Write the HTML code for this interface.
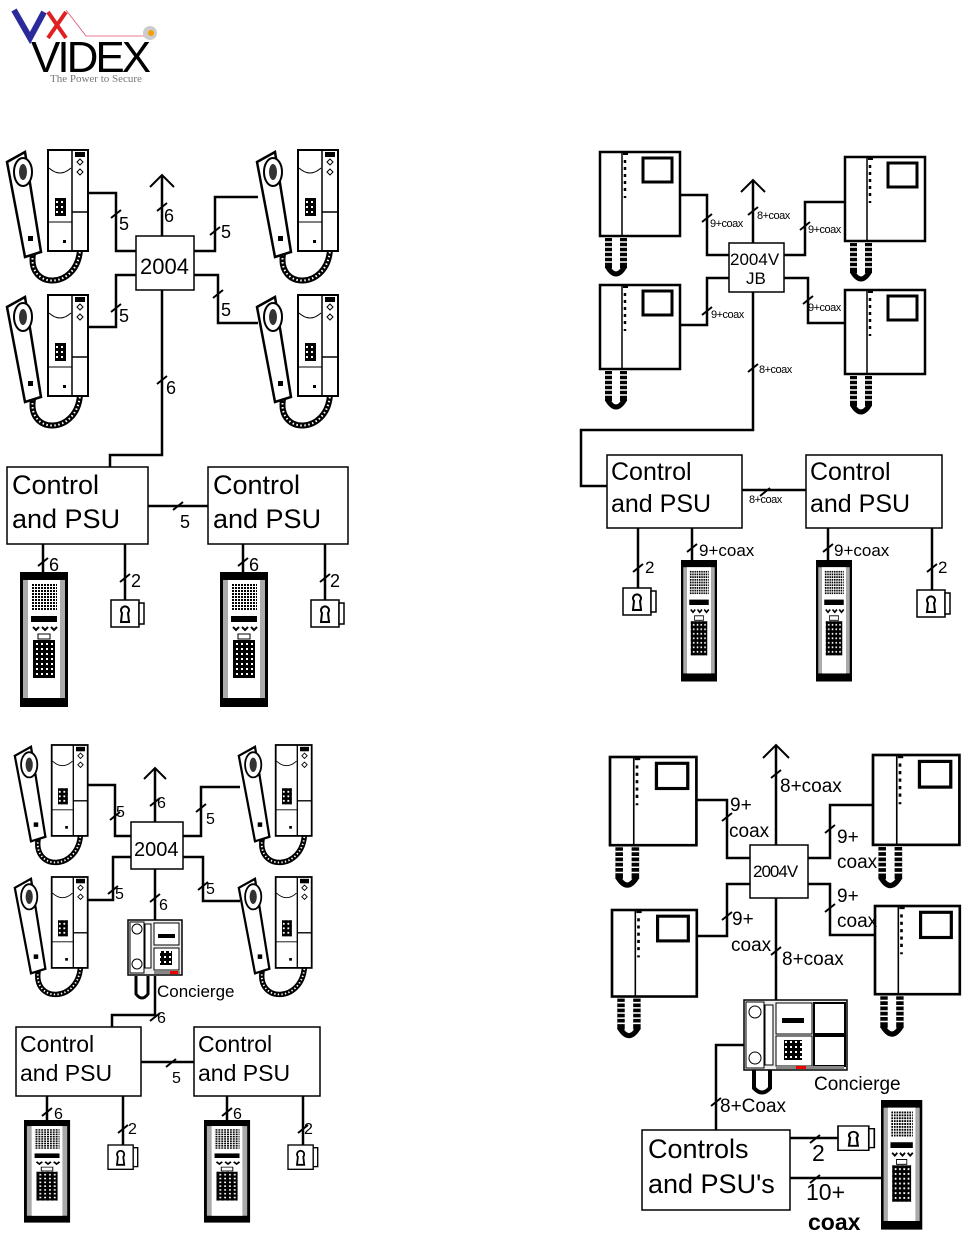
<!DOCTYPE html>
<html><head><meta charset="utf-8"><style>
html,body{margin:0;padding:0;background:#fff}
svg{display:block}
text{font-family:"Liberation Sans",Arial,sans-serif;fill:#000}
</style></head><body>
<svg width="965" height="1237" viewBox="0 0 965 1237" xmlns="http://www.w3.org/2000/svg">
<defs>
<pattern id="dots" width="3" height="3" patternUnits="userSpaceOnUse"><rect width="3" height="3" fill="#fff"/><rect width="2" height="2" fill="#000"/></pattern>
<pattern id="kd" width="5" height="5" patternUnits="userSpaceOnUse"><rect width="5" height="5" fill="#000"/><rect x="1" y="1" width="2" height="2" fill="#fff"/></pattern>
<g id="ph">
 <path d="M28,104 C22,140 72,140 75,100" fill="none" stroke="#000" stroke-width="6"/>
 <path d="M28,104 C22,140 72,140 75,100" fill="none" stroke="#fff" stroke-width="2" stroke-dasharray="1.5 2.5"/>
 <path d="M2,12 L20,2 L36,102 L20,107 Z" fill="#fff" stroke="#000" stroke-width="2.5"/>
 <ellipse cx="18" cy="22" rx="9" ry="14" fill="#fff" stroke="#000" stroke-width="2"/>
 <ellipse cx="18" cy="22" rx="4" ry="8" fill="#333"/>
 <rect x="23" y="86" width="5" height="5" fill="#000"/>
 <rect x="43" y="0" width="40" height="101" fill="#fff" stroke="#000" stroke-width="2"/>
 <line x1="67" y1="0" x2="67" y2="101" stroke="#000" stroke-width="1.5"/>
 <line x1="67" y1="62" x2="83" y2="62" stroke="#000" stroke-width="1.5"/>
 <line x1="43" y1="72" x2="67" y2="72" stroke="#000" stroke-width="1"/>
 <path d="M44,18 Q55,28 66,18" fill="none" stroke="#000" stroke-width="1"/>
 <rect x="50" y="48" width="11" height="18" fill="url(#kd)"/>
 <rect x="70" y="2" width="10" height="5" fill="#000"/>
 <path d="M72,12 l3,-3 l3,3 l-3,3 z M72,22 l3,-3 l3,3 l-3,3 z" fill="none" stroke="#000"/>
 <rect x="58" y="90" width="3" height="3" fill="#000"/>
</g>
<g id="mon">
 <rect x="5" y="86" width="7" height="30" fill="#000"/>
 <rect x="20" y="86" width="7" height="30" fill="#000"/>
 <path d="M5,90 h22 M5,95 h22 M5,100 h22 M5,105 h22 M5,110 h22" stroke="#fff" stroke-width="1.5"/>
 <path d="M7,114 Q16,130 25,114" fill="none" stroke="#000" stroke-width="5"/>
 <rect x="0" y="0" width="80" height="84" fill="#fff" stroke="#000" stroke-width="2.5"/>
 <line x1="22" y1="0" x2="22" y2="84" stroke="#000" stroke-width="1.5"/>
 <rect x="23" y="0" width="5" height="3" fill="#000"/>
 <path d="M25,8 v3 M25,15 v3 M25,22 v3 M25,29 v3 M25,36 v3 M25,44 v2" stroke="#000" stroke-width="2.5"/>
 <rect x="43" y="6" width="29" height="24" fill="#fff" stroke="#000" stroke-width="3"/>
</g>
<g id="door">
 <rect x="0" y="0" width="48" height="135" fill="#000"/>
 <rect x="3" y="8" width="42" height="118" fill="#aaa"/>
 <rect x="8" y="8" width="32" height="118" fill="#fff"/>
 <rect x="11" y="12" width="26" height="26" fill="url(#dots)"/>
 <rect x="11" y="44" width="26" height="6" fill="#000"/>
 <path d="M13,55 l3,3 l3,-3 M22,55 l3,3 l3,-3 M31,55 l3,3 l3,-3" stroke="#000" fill="none" stroke-width="2"/>
 <rect x="18" y="62" width="12" height="5" fill="#fff" stroke="#000"/>
 <rect x="13" y="68" width="22" height="38" fill="url(#kd)"/>
</g>
<g id="lock">
 <rect x="0" y="0" width="28" height="27" fill="#fff" stroke="#000" stroke-width="1.5"/>
 <rect x="28" y="3" width="5" height="21" fill="#fff" stroke="#000" stroke-width="1.5"/>
 <path d="M10,22 L11,13 A4,4 0 1 1 17,13 L18,22 Z" fill="#fff" stroke="#000" stroke-width="2"/>
</g>
<g id="conc">
 <path d="M8,56 v18 q6,8 12,0 v-18" fill="none" stroke="#000" stroke-width="3"/>
 <rect x="0" y="0" width="54" height="55" fill="#eee" stroke="#000" stroke-width="1.5"/>
 <rect x="2" y="2" width="14" height="51" fill="#fff" stroke="#000"/>
 <circle cx="9" cy="9" r="5" fill="#fff" stroke="#000"/>
 <circle cx="9" cy="44" r="5" fill="#fff" stroke="#000"/>
 <rect x="17" y="4" width="6" height="44" fill="#fff" stroke="#000"/>
 <rect x="26" y="3" width="25" height="22" fill="#fff" stroke="#000"/>
 <rect x="30" y="14" width="17" height="4" fill="#000"/>
 <rect x="26" y="28" width="25" height="22" fill="#fff" stroke="#000"/>
 <rect x="32" y="31" width="12" height="14" fill="url(#kd)"/>
 <rect x="26" y="51" width="26" height="3" fill="#888"/>
 <rect x="42" y="51" width="8" height="3" fill="#e00"/>
</g>
<g id="conc2">
 <path d="M10,70 v18 q8,9 16,0 v-18" fill="none" stroke="#000" stroke-width="4"/>
 <rect x="0" y="0" width="103" height="70" fill="#eee" stroke="#000" stroke-width="1.5"/>
 <rect x="2" y="2" width="18" height="66" fill="#fff" stroke="#000"/>
 <circle cx="11" cy="12" r="6" fill="#fff" stroke="#000"/>
 <circle cx="11" cy="58" r="6" fill="#fff" stroke="#000"/>
 <rect x="21" y="5" width="8" height="60" fill="#fff" stroke="#000"/>
 <rect x="32" y="3" width="36" height="31" fill="#fff" stroke="#000"/>
 <rect x="38" y="18" width="22" height="5" fill="#000"/>
 <rect x="32" y="36" width="36" height="30" fill="#fff" stroke="#000"/>
 <rect x="40" y="40" width="18" height="20" fill="url(#kd)"/>
 <rect x="70" y="3" width="31" height="31" fill="#fff" stroke="#000" stroke-width="2"/>
 <rect x="70" y="36" width="31" height="30" fill="#fff" stroke="#000" stroke-width="2"/>
 <rect x="32" y="66" width="68" height="3" fill="#888"/>
 <rect x="52" y="66" width="10" height="3" fill="#e00"/>
</g>
</defs>

<!-- logo -->
<path d="M14,10 L30,38 L44,12" fill="none" stroke="#2a2a9a" stroke-width="6"/>
<path d="M48,12 L66,38 M66,12 L48,38" stroke="#e02020" stroke-width="4"/>
<path d="M66,10 L86,36 L150,36" fill="none" stroke="#e05070" stroke-width="0.8"/>
<circle cx="150" cy="33" r="7" fill="#ccc"/><circle cx="151" cy="33" r="3" fill="#f5a000"/>
<text x="31" y="72" font-size="44" style="letter-spacing:-3px">VIDEX</text>
<text x="50" y="82" font-size="11" fill="#777" style="font-family:'Liberation Serif',serif;fill:#777">The Power to Secure</text>

<g stroke="#000" stroke-width="2.5" fill="none">
<!-- section 1 -->
<path d="M88,193 H116 V251 H136 M136,275 H116 V327 H88 M194,251 H215 V197 H258 M194,275 H218 V323 H258 M162,175 V236 M162,290 V455 H110 V467 M148,506 H208 M43,544 V572 M125,544 V600 M243,544 V572 M325,544 V600"/>
<path d="M150,187 L162,175 L174,187" stroke-width="2"/>
<!-- section 2 -->
<path d="M680,195 H707 V255 H729 M729,278 H707 V325 H680 M784,255 H805 V202 H845 M784,278 H808 V323 H845 M753,180 V243 M753,292 V430 H581 V486 H607 M742,490 H806 M638,528 V590 M692,528 V560 M828,528 V560 M932,528 V590"/>
<path d="M741,192 L753,180 L765,192" stroke-width="2"/>
<!-- section 3 -->
<path d="M88,785 H115 V836 H131 M131,857 H113 V900 H88 M183,836 H201 V787 H240 M183,857 H203 V901 H240 M155,768 V822 M155,869 V920 M155,976 V1015 H112 V1027 M141,1062 H194 M47,1096 V1120 M123,1096 V1145 M227,1096 V1120 M303,1096 V1145"/>
<path d="M144,779 L155,768 L166,779" stroke-width="2"/>
<!-- section 4 -->
<path d="M697,800 H727 V858 H750 M750,884 H727 V936 H697 M808,858 H830 V805 H873 M808,884 H830 V935 H875 M776,745 V845 M776,898 V1000 M744,1045 H716 V1130 M790,1138 H838 M790,1178 H882"/>
<path d="M763,758 L776,745 L789,758" stroke-width="2"/>
</g>
<!-- ticks -->
<g stroke="#000" stroke-width="2">
<path d="M111,218 l10,-8 M157,211 l10,-8 M111,312 l10,-8 M210,235 l10,-8 M213,298 l10,-8 M157,384 l10,-8 M173,510 l10,-8 M38,566 l10,-8 M120,582 l10,-8 M238,566 l10,-8 M320,582 l10,-8"/>
<path d="M702,222 l10,-8 M748,215 l10,-8 M702,315 l10,-8 M800,230 l10,-8 M803,304 l10,-8 M748,372 l10,-8 M760,496 l10,-8 M633,572 l10,-8 M687,552 l10,-8 M823,552 l10,-8 M927,572 l10,-8"/>
<path d="M110,820 l10,-8 M150,806 l10,-8 M108,894 l10,-8 M196,812 l10,-8 M198,890 l10,-8 M150,902 l10,-8 M150,1021 l10,-8 M166,1067 l10,-8 M42,1116 l10,-8 M118,1133 l10,-8 M222,1116 l10,-8 M298,1133 l10,-8"/>
<path d="M722,821 l10,-8 M771,778 l10,-8 M825,833 l10,-8 M722,920 l10,-8 M825,912 l10,-8 M771,955 l10,-8 M711,1106 l10,-8 M810,1143 l10,-8 M810,1183 l10,-8"/>
</g>

<!-- devices section1 -->
<use href="#ph" x="5" y="150"/><use href="#ph" x="255" y="150"/>
<use href="#ph" x="5" y="295"/><use href="#ph" x="255" y="295"/>
<rect x="136" y="236" width="58" height="54" fill="#fff" stroke="#000" stroke-width="1.5"/>
<text x="140" y="274" font-size="22">2004</text>
<rect x="7" y="467" width="141" height="77" fill="#fff" stroke="#000" stroke-width="1.5"/>
<rect x="208" y="467" width="140" height="77" fill="#fff" stroke="#000" stroke-width="1.5"/>
<text x="12" y="494" font-size="27">Control</text><text x="12" y="528" font-size="27">and PSU</text>
<text x="213" y="494" font-size="27">Control</text><text x="213" y="528" font-size="27">and PSU</text>
<use href="#door" x="20" y="553" transform="translate(0,19)" /><use href="#door" x="220" y="553" transform="translate(0,19)"/>
<use href="#lock" x="111" y="600"/><use href="#lock" x="311" y="600"/>
<g font-size="18">
<text x="119" y="230">5</text><text x="164" y="222">6</text><text x="119" y="322">5</text><text x="221" y="238">5</text><text x="221" y="316">5</text><text x="166" y="394">6</text><text x="180" y="528">5</text><text x="49" y="571">6</text><text x="131" y="587">2</text><text x="249" y="571">6</text><text x="330" y="587">2</text>
</g>

<!-- section2 -->
<use href="#mon" x="600" y="152"/><use href="#mon" x="845" y="157"/>
<use href="#mon" x="600" y="285"/><use href="#mon" x="845" y="290"/>
<rect x="729" y="243" width="55" height="49" fill="#fff" stroke="#000" stroke-width="1.5"/>
<text x="730" y="265" font-size="17">2004V</text><text x="746" y="284" font-size="17">JB</text>
<rect x="607" y="455" width="135" height="73" fill="#fff" stroke="#000" stroke-width="1.5"/>
<rect x="806" y="455" width="136" height="73" fill="#fff" stroke="#000" stroke-width="1.5"/>
<text x="611" y="480" font-size="25">Control</text><text x="611" y="512" font-size="25">and PSU</text>
<text x="810" y="480" font-size="25">Control</text><text x="810" y="512" font-size="25">and PSU</text>
<g font-size="11" style="letter-spacing:-0.5px">
<text x="710" y="227">9+coax</text><text x="757" y="219">8+coax</text><text x="808" y="233">9+coax</text>
<text x="711" y="318">9+coax</text><text x="808" y="311">9+coax</text><text x="759" y="373">8+coax</text><text x="749" y="503">8+coax</text>
</g>
<use href="#door" transform="translate(681,560) scale(0.75,0.9)"/><use href="#door" transform="translate(816,560) scale(0.75,0.9)"/>
<use href="#lock" x="623" y="588"/><use href="#lock" x="917" y="590"/>
<g font-size="17"><text x="645" y="573">2</text><text x="699" y="556">9+coax</text><text x="834" y="556">9+coax</text><text x="938" y="573">2</text></g>

<!-- section3 -->
<use href="#ph" transform="translate(13,745) scale(0.9)"/><use href="#ph" transform="translate(237,745) scale(0.9)"/>
<use href="#ph" transform="translate(13,877) scale(0.9)"/><use href="#ph" transform="translate(237,877) scale(0.9)"/>
<rect x="131" y="822" width="52" height="47" fill="#fff" stroke="#000" stroke-width="1.5"/>
<text x="134" y="856" font-size="20">2004</text>
<use href="#conc" x="128" y="920"/>
<text x="157" y="997" font-size="17">Concierge</text>
<rect x="16" y="1027" width="125" height="69" fill="#fff" stroke="#000" stroke-width="1.5"/>
<rect x="194" y="1027" width="126" height="69" fill="#fff" stroke="#000" stroke-width="1.5"/>
<text x="20" y="1052" font-size="23">Control</text><text x="20" y="1081" font-size="23">and PSU</text>
<text x="198" y="1052" font-size="23">Control</text><text x="198" y="1081" font-size="23">and PSU</text>
<use href="#door" transform="translate(24,1120) scale(0.96,0.76)"/><use href="#door" transform="translate(204,1120) scale(0.96,0.76)"/>
<use href="#lock" transform="translate(108,1145) scale(0.9)"/><use href="#lock" transform="translate(288,1145) scale(0.9)"/>
<g font-size="16">
<text x="116" y="817">5</text><text x="157" y="808">6</text><text x="115" y="899">5</text><text x="206" y="824">5</text><text x="206" y="894">5</text><text x="159" y="910">6</text><text x="157" y="1023">6</text><text x="172" y="1083">5</text><text x="54" y="1119">6</text><text x="128" y="1134">2</text><text x="233" y="1119">6</text><text x="304" y="1134">2</text>
</g>

<!-- section4 -->
<use href="#mon" transform="translate(610,757) scale(1.08,1.05)"/><use href="#mon" transform="translate(873,755) scale(1.08,1.07)"/>
<use href="#mon" transform="translate(612,910) scale(1.06,1.03)"/><use href="#mon" transform="translate(875,906) scale(1.06,1.05)"/>
<rect x="750" y="845" width="58" height="53" fill="#fff" stroke="#000" stroke-width="1.5"/>
<text x="753" y="877" font-size="17" style="letter-spacing:-1px">2004V</text>
<g font-size="19">
<text x="730" y="811">9+</text><text x="729" y="837">coax</text>
<text x="780" y="792">8+coax</text>
<text x="837" y="843">9+</text><text x="837" y="868">coax</text>
<text x="732" y="925">9+</text><text x="731" y="951">coax</text>
<text x="837" y="902">9+</text><text x="837" y="927">coax</text>
<text x="782" y="965">8+coax</text>
</g>
<use href="#conc2" x="744" y="1000"/>
<text x="814" y="1090" font-size="19">Concierge</text>
<text x="720" y="1112" font-size="19">8+Coax</text>
<rect x="642" y="1130" width="148" height="80" fill="#fff" stroke="#000" stroke-width="1.5"/>
<text x="648" y="1158" font-size="27">Controls</text><text x="648" y="1193" font-size="27">and PSU's</text>
<use href="#lock" transform="translate(838,1126) scale(1.1,0.9)"/>
<use href="#door" transform="translate(881,1100) scale(0.86,0.96)"/>
<g font-size="23"><text x="812" y="1161">2</text><text x="806" y="1200">10+</text><text x="808" y="1230" font-weight="bold" style="font-weight:bold">coax</text></g>
</svg>
</body></html>
